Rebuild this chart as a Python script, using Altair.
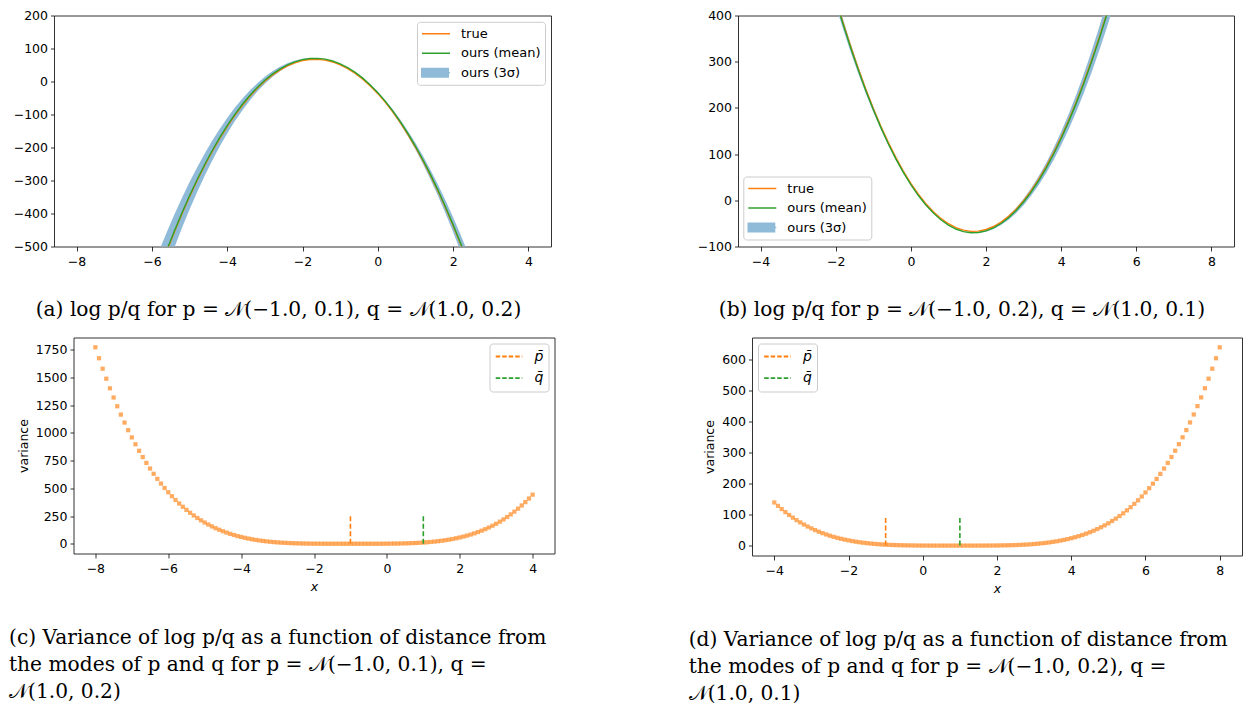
import altair as alt
import pandas as pd

# ---------------- series names / colours ----------------
SER = ["true", "ours (mean)", "ours (3σ)"]
SER_COLORS = ["#ff7f0e", "#2ca02c", "#8fbbd9"]
BAND_SER = ["ours (3σ)"]
BAND_COLOR = ["#8fbbd9"]
RECT = "M-1,-0.36H1V0.36H-1Z"
MODE_LBL = ["p̄", "q̄"]
MODE_COLORS = ["#ff7f0e", "#2ca02c"]

# ---------------- panel (a) ----------------
xa = [-5.8, -5.6, -5.4, -5.2, -5.0, -4.8, -4.6, -4.4, -4.2, -4.0, -3.8, -3.6, -3.4, -3.2,
      -3.0, -2.8, -2.6, -2.4, -2.2, -2.0, -1.8, -1.6, -1.4, -1.2, -1.0, -0.8, -0.6, -0.4,
      -0.2, 0.0, 0.2, 0.4, 0.6, 0.8, 1.0, 1.2, 1.4, 1.6, 1.8, 2.0, 2.2, 2.4]
true_a = [-573.3, -512.8, -455.3, -400.8, -349.3, -300.8, -255.3, -212.8, -173.3, -136.8,
          -103.3, -72.8, -45.3, -20.8, 0.7, 19.2, 34.7, 47.2, 56.7, 63.2, 66.7, 67.2, 64.7,
          59.2, 50.7, 39.2, 24.7, 7.2, -13.3, -36.8, -63.3, -92.8, -125.3, -160.8, -199.3,
          -240.8, -285.3, -332.8, -383.3, -436.8, -493.3, -552.8]
mean_a = [-570.3, -509.8, -452.3, -397.8, -346.3, -297.8, -252.3, -209.8, -170.3, -133.8,
          -100.3, -69.8, -42.3, -17.8, 3.7, 22.2, 37.7, 50.2, 59.7, 66.2, 69.7, 70.2, 67.7,
          62.2, 53.7, 42.2, 27.7, 10.2, -10.3, -33.8, -60.3, -89.8, -122.3, -157.8, -196.3,
          -237.8, -282.3, -329.8, -380.3, -433.8, -490.3, -549.8]
lo_a = [-629.9, -564.6, -502.4, -443.5, -387.8, -335.3, -286.0, -239.8, -196.9, -157.3,
        -120.8, -87.5, -57.4, -30.5, -6.8, 13.7, 30.9, 45.0, 55.8, 63.5, 68.1, 69.2, 67.2,
        62.1, 53.7, 42.1, 27.4, 9.4, -11.8, -36.2, -63.8, -94.6, -128.6, -165.8, -206.2,
        -249.8, -296.6, -346.7, -399.9, -456.3, -516.0, -578.8]
hi_a = [-510.7, -455.0, -402.2, -352.1, -304.8, -260.3, -218.6, -179.8, -143.7, -110.3,
        -79.8, -52.1, -27.2, -5.1, 14.2, 30.7, 44.5, 55.4, 63.6, 68.9, 71.3, 71.2, 68.2,
        62.3, 53.7, 42.3, 28.0, 11.0, -8.8, -31.4, -56.8, -85.0, -116.0, -149.8, -186.4,
        -225.8, -268.0, -312.9, -360.7, -411.3, -464.6, -520.8]

# ---------------- panel (b) ----------------
xb = [-2.2, -2.0, -1.8, -1.6, -1.4, -1.2, -1.0, -0.8, -0.6, -0.4, -0.2, 0.0, 0.2, 0.4, 0.6,
      0.8, 1.0, 1.2, 1.4, 1.6, 1.8, 2.0, 2.2, 2.4, 2.6, 2.8, 3.0, 3.2, 3.4, 3.6, 3.8, 4.0,
      4.2, 4.4, 4.6, 4.8, 5.0, 5.2, 5.4, 5.6]
true_b = [493.3, 436.8, 383.3, 332.8, 285.3, 240.8, 199.3, 160.8, 125.3, 92.8, 63.3, 36.8,
          13.3, -7.2, -24.7, -39.2, -50.7, -59.2, -64.7, -67.2, -66.7, -63.2, -56.7, -47.2,
          -34.7, -19.2, -0.7, 20.8, 45.3, 72.8, 103.3, 136.8, 173.3, 212.8, 255.3, 300.8,
          349.3, 400.8, 455.3, 512.8]
mean_b = [490.3, 433.8, 380.3, 329.8, 282.3, 237.8, 196.3, 157.8, 122.3, 89.8, 60.3, 33.8,
          10.3, -10.2, -27.7, -42.2, -53.7, -62.2, -67.7, -70.2, -69.7, -66.2, -59.7, -50.2,
          -37.7, -22.2, -3.7, 17.8, 42.3, 69.8, 100.3, 133.8, 170.3, 209.8, 252.3, 297.8,
          346.3, 397.8, 452.3, 509.8]
lo_b = [476.2, 421.5, 369.7, 320.7, 274.6, 231.4, 191.1, 153.7, 119.1, 87.4, 58.6, 32.7,
        9.6, -10.5, -27.8, -42.2, -53.7, -62.4, -68.1, -71.0, -71.0, -68.1, -62.3, -53.7,
        -42.2, -27.8, -10.5, 9.7, 32.7, 58.7, 87.5, 119.2, 153.7, 191.2, 231.5, 274.7,
        320.8, 369.8, 421.7, 476.4]
hi_b = [504.4, 446.1, 390.9, 338.9, 290.0, 244.2, 201.5, 161.9, 125.5, 92.2, 62.0, 34.9,
        11.0, -9.9, -27.6, -42.2, -53.7, -62.0, -67.3, -69.4, -68.4, -64.3, -57.1, -46.7,
        -33.2, -16.6, 3.1, 25.9, 51.9, 80.9, 113.1, 148.4, 186.9, 228.4, 273.1, 320.9,
        371.8, 425.8, 482.9, 543.2]

# ---------------- panel (c) ----------------
xc = [-8.0, -7.9, -7.8, -7.7, -7.6, -7.5, -7.4, -7.3, -7.2, -7.1,
      -7.0, -6.9, -6.8, -6.7, -6.6, -6.5, -6.4, -6.3, -6.2, -6.1,
      -6.0, -5.9, -5.8, -5.7, -5.6, -5.5, -5.4, -5.3, -5.2, -5.1,
      -5.0, -4.9, -4.8, -4.7, -4.6, -4.5, -4.4, -4.3, -4.2, -4.1,
      -4.0, -3.9, -3.8, -3.7, -3.6, -3.5, -3.4, -3.3, -3.2, -3.1,
      -3.0, -2.9, -2.8, -2.7, -2.6, -2.5, -2.4, -2.3, -2.2, -2.1,
      -2.0, -1.9, -1.8, -1.7, -1.6, -1.5, -1.4, -1.3, -1.2, -1.1,
      -1.0, -0.9, -0.8, -0.7, -0.6, -0.5, -0.4, -0.3, -0.2, -0.1,
      0.0, 0.1, 0.2, 0.3, 0.4, 0.5, 0.6, 0.7, 0.8, 0.9,
      1.0, 1.1, 1.2, 1.3, 1.4, 1.5, 1.6, 1.7, 1.8, 1.9,
      2.0, 2.1, 2.2, 2.3, 2.4, 2.5, 2.6, 2.7, 2.8, 2.9,
      3.0, 3.1, 3.2, 3.3, 3.4, 3.5, 3.6, 3.7, 3.8, 3.9, 4.0]
var_c = [1770.7, 1672.1, 1577.7, 1487.3, 1400.8, 1318.2, 1239.3, 1164.0, 1092.2, 1023.7,
         958.5, 896.5, 837.5, 781.6, 728.4, 678.0, 630.3, 585.1, 542.4, 502.1,
         464.1, 428.3, 394.6, 362.9, 333.2, 305.3, 279.2, 254.9, 232.1, 210.9,
         191.2, 172.9, 156.0, 140.3, 125.9, 112.6, 100.3, 89.2, 78.9, 69.6,
         61.1, 53.4, 46.5, 40.3, 34.7, 29.7, 25.3, 21.4, 17.9, 14.9,
         12.3, 10.1, 8.1, 6.5, 5.1, 4.0, 3.0, 2.3, 1.7, 1.2,
         0.8, 0.5, 0.3, 0.2, 0.1, 0.1, 0.0, 0.0, 0.0, 0.0,
         0.0, 0.0, 0.0, 0.0, 0.0, 0.0, 0.1, 0.1, 0.3, 0.4,
         0.6, 1.0, 1.4, 1.9, 2.6, 3.4, 4.4, 5.6, 7.1, 8.9,
         10.9, 13.3, 16.1, 19.3, 22.9, 27.0, 31.6, 36.8, 42.7, 49.2,
         56.4, 64.4, 73.2, 82.9, 93.5, 105.1, 117.8, 131.5, 146.5, 162.6,
         180.1, 198.9, 219.2, 241.0, 264.4, 289.4, 316.2, 344.8, 375.3, 407.8, 442.3]
mode_top_c = [250, 250]

# ---------------- panel (d) ----------------
xd = [-4.0, -3.9, -3.8, -3.7, -3.6, -3.5, -3.4, -3.3, -3.2, -3.1,
      -3.0, -2.9, -2.8, -2.7, -2.6, -2.5, -2.4, -2.3, -2.2, -2.1,
      -2.0, -1.9, -1.8, -1.7, -1.6, -1.5, -1.4, -1.3, -1.2, -1.1,
      -1.0, -0.9, -0.8, -0.7, -0.6, -0.5, -0.4, -0.3, -0.2, -0.1,
      0.0, 0.1, 0.2, 0.3, 0.4, 0.5, 0.6, 0.7, 0.8, 0.9,
      1.0, 1.1, 1.2, 1.3, 1.4, 1.5, 1.6, 1.7, 1.8, 1.9,
      2.0, 2.1, 2.2, 2.3, 2.4, 2.5, 2.6, 2.7, 2.8, 2.9,
      3.0, 3.1, 3.2, 3.3, 3.4, 3.5, 3.6, 3.7, 3.8, 3.9,
      4.0, 4.1, 4.2, 4.3, 4.4, 4.5, 4.6, 4.7, 4.8, 4.9,
      5.0, 5.1, 5.2, 5.3, 5.4, 5.5, 5.6, 5.7, 5.8, 5.9,
      6.0, 6.1, 6.2, 6.3, 6.4, 6.5, 6.6, 6.7, 6.8, 6.9,
      7.0, 7.1, 7.2, 7.3, 7.4, 7.5, 7.6, 7.7, 7.8, 7.9, 8.0]
var_d = [139.3, 128.2, 117.8, 108.0, 98.9, 90.3, 82.3, 74.9, 68.0, 61.5,
         55.6, 50.0, 44.9, 40.2, 35.9, 31.9, 28.3, 25.0, 22.0, 19.3,
         16.8, 14.6, 12.6, 10.8, 9.2, 7.8, 6.6, 5.5, 4.5, 3.7,
         3.0, 2.4, 1.9, 1.5, 1.2, 0.9, 0.6, 0.5, 0.3, 0.2,
         0.1, 0.1, 0.0, 0.0, 0.0, 0.0, 0.0, 0.0, 0.0, 0.0,
         0.0, 0.0, 0.0, 0.0, 0.0, 0.0, 0.1, 0.1, 0.2, 0.3,
         0.4, 0.6, 0.8, 1.0, 1.4, 1.7, 2.2, 2.8, 3.4, 4.2,
         5.1, 6.1, 7.3, 8.6, 10.1, 11.9, 13.8, 15.9, 18.3, 20.9,
         23.8, 27.0, 30.5, 34.3, 38.5, 43.0, 47.9, 53.3, 59.1, 65.3,
         72.1, 79.3, 87.1, 95.4, 104.3, 113.8, 124.0, 134.8, 146.3, 158.6,
         171.6, 185.3, 199.9, 215.3, 231.6, 248.9, 267.0, 286.1, 306.3, 327.5,
         349.8, 373.1, 397.7, 423.4, 450.4, 478.6, 508.1, 539.0, 571.3, 605.0, 640.2]
mode_top_d = [90, 90]
mode_x = [-1.0, 1.0]

# ---------------- captions ----------------
cap_a = "(a) log p/q for p = 𝒩(−1.0, 0.1), q = 𝒩(1.0, 0.2)"
cap_b = "(b) log p/q for p = 𝒩(−1.0, 0.2), q = 𝒩(1.0, 0.1)"
cap_c = ["(c) Variance of log p/q as a function of distance from",
         "the modes of p and q for p = 𝒩(−1.0, 0.1), q =",
         "𝒩(1.0, 0.2)"]
cap_d = ["(d) Variance of log p/q as a function of distance from",
         "the modes of p and q for p = 𝒩(−1.0, 0.2), q =",
         "𝒩(1.0, 0.1)"]

SERIF = "DejaVu Serif"
SANS = "DejaVu Sans"
CAP_SIZE = 20.2


def curve_panel(x, true, mean, lo, hi, xdom, ydom, xvals, yvals, lx, ly,
                width, height, cap, cap_dx):
    n = len(x)
    lines_df = pd.DataFrame({"x": x + x, "y": true + mean,
                             "series": [SER[0]] * n + [SER[1]] * n})
    band_df = pd.DataFrame({"x": x, "lo": lo, "hi": hi, "series": BAND_SER * n})
    xs = alt.Scale(domain=xdom, nice=False, zero=False)
    ys = alt.Scale(domain=ydom, nice=False, zero=False)
    leg_lines = alt.Legend(title=None, orient="none", legendX=lx, legendY=ly,
                           symbolType="stroke", symbolSize=784, symbolStrokeWidth=1.5,
                           clipHeight=16, rowPadding=3.5, padding=4, labelOffset=10,
                           labelFont=SANS, labelFontSize=13, labelColor="black",
                           strokeColor="#cccccc", cornerRadius=3, fillColor="transparent")
    leg_band = alt.Legend(title=None, orient="none", legendX=lx + 4, legendY=ly + 43,
                          symbolType=RECT, symbolSize=784, symbolStrokeWidth=0,
                          clipHeight=16, padding=0, labelOffset=10, labelFont=SANS,
                          labelFontSize=13, labelOpacity=0, strokeColor="transparent",
                          fillColor="transparent")
    band = alt.Chart(band_df).mark_area(clip=True).encode(
        x=alt.X("x:Q", scale=xs, axis=alt.Axis(values=xvals, format="d", title=None,
                                               tickCount=30, labelOverlap=False)),
        y=alt.Y("lo:Q", scale=ys, axis=alt.Axis(values=yvals, format="d", title=None,
                                                tickCount=30, labelOverlap=False)),
        y2="hi:Q",
        fill=alt.Fill("series:N", scale=alt.Scale(domain=BAND_SER, range=BAND_COLOR),
                      legend=leg_band),
    )
    lines = alt.Chart(lines_df).mark_line(clip=True, strokeWidth=1.4).encode(
        x=alt.X("x:Q", scale=xs),
        y=alt.Y("y:Q", scale=ys),
        color=alt.Color("series:N", scale=alt.Scale(domain=SER, range=SER_COLORS),
                        legend=leg_lines),
    )
    return alt.layer(band, lines).properties(
        width=width, height=height,
        title=alt.TitleParams(text=cap, orient="bottom", anchor="middle", frame="group",
                              dx=cap_dx, offset=32, font=SERIF, fontSize=CAP_SIZE,
                              fontWeight="normal", color="black"))


def var_panel(x, v, mtop, xdom, ydom, xvals, yvals, orient, width, height, cap, cap_dx):
    pts = pd.DataFrame({"x": x, "v": v})
    modes = pd.DataFrame({"x": mode_x, "y0": [0, 0], "y1": mtop, "label": MODE_LBL})
    xs = alt.Scale(domain=xdom, nice=False, zero=False)
    ys = alt.Scale(domain=ydom, nice=False, zero=False)
    scatter = alt.Chart(pts).mark_square(size=18, color="#ff7f0e", opacity=0.65).encode(
        x=alt.X("x:Q", scale=xs, axis=alt.Axis(values=xvals, format="d", title="x",
                                               titleFontStyle="italic", titlePadding=5,
                                               tickCount=30, labelOverlap=False)),
        y=alt.Y("v:Q", scale=ys, axis=alt.Axis(values=yvals, format="d", title="variance",
                                               titlePadding=5, tickCount=30,
                                               labelOverlap=False)),
    )
    leg = alt.Legend(title=None, orient=orient, symbolType="stroke", symbolSize=708,
                     symbolDash=[4.5, 2], symbolStrokeWidth=1.8, clipHeight=16, rowPadding=5.7,
                     padding=5, offset=6, labelOffset=11, labelFont=SANS, labelFontSize=14,
                     labelFontStyle="italic", labelColor="black", strokeColor="#cccccc",
                     cornerRadius=3, fillColor="white")
    rules = alt.Chart(modes).mark_rule(strokeDash=[5, 2.5], strokeWidth=1.6).encode(
        x=alt.X("x:Q", scale=xs),
        y=alt.Y("y0:Q", scale=ys),
        y2="y1:Q",
        stroke=alt.Stroke("label:N", scale=alt.Scale(domain=MODE_LBL, range=MODE_COLORS),
                          legend=leg),
    )
    return alt.layer(scatter, rules).properties(
        width=width, height=height,
        title=alt.TitleParams(text=cap, orient="bottom", anchor="start", frame="group",
                              dx=cap_dx, offset=35, font=SERIF, fontSize=CAP_SIZE,
                              fontWeight="normal", color="black", lineHeight=27, align="left"))


pa = curve_panel(xa, true_a, mean_a, lo_a, hi_a, [-8.6, 4.6], [-500, 200],
                 [-8, -6, -4, -2, 0, 2, 4], [-500, -400, -300, -200, -100, 0, 100, 200],
                 363, 6.3, 497, 231, cap_a, -24)
pb = curve_panel(xb, true_b, mean_b, lo_b, hi_b, [-4.6, 8.6], [-100, 400],
                 [-4, -2, 0, 2, 4, 6, 8], [-100, 0, 100, 200, 300, 400],
                 5.3, 161, 496, 231, cap_b, -24)
pc = var_panel(xc, var_c, mode_top_c, [-8.6, 4.6], [-88, 1859],
               [-8, -6, -4, -2, 0, 2, 4], [0, 250, 500, 750, 1000, 1250, 1500, 1750],
               "top-right", 481, 216, cap_c, -64.5)
pd_ = var_panel(xd, var_d, mode_top_d, [-4.6, 8.6], [-32, 672],
                [-4, -2, 0, 2, 4, 6, 8], [0, 100, 200, 300, 400, 500, 600],
                "top-left", 490, 218, cap_d, -63.3)

# invisible 1x1 spacer that lets panel (c) sit further right than panel (a)
spacer = alt.Chart(pd.DataFrame({"v": [0]})).mark_point(opacity=0).encode(
    x=alt.value(0), y=alt.value(0)
).properties(width=1, height=1, view=alt.ViewBackground(stroke=None, strokeOpacity=0))

IND_S = dict(color="independent", shape="independent", stroke="independent", fill="independent")
IND_L = dict(color="independent", shape="independent", stroke="independent", fill="independent")

top = alt.hconcat(pa, pb, spacing=144).resolve_scale(**IND_S).resolve_legend(**IND_L)
left_bottom = alt.hconcat(spacer, pc, spacing=-48.5).resolve_scale(**IND_S).resolve_legend(**IND_L)
bottom = alt.hconcat(left_bottom, pd_, spacing=133).resolve_scale(**IND_S).resolve_legend(**IND_L)

chart = alt.vconcat(top, bottom, spacing=13).resolve_scale(**IND_S).resolve_legend(**IND_L).properties(
    padding={"left": 0, "top": 0.5, "right": 0, "bottom": 0}
).configure(font=SANS).configure_view(
    stroke="#333333", strokeWidth=1
).configure_axis(
    labelFont=SANS, labelFontSize=12.5, labelColor="black", tickColor="black",
    tickWidth=0.8, domain=False, grid=False, labelOverlap=False,
    titleFont=SANS, titleFontSize=12.5, titleFontWeight="normal", titleColor="black"
).configure_axisX(tickSize=4.5, labelPadding=4.5).configure_axisY(tickSize=3.5, labelPadding=3)

chart.save("out.html", embed_options={"renderer": "svg", "actions": False})
